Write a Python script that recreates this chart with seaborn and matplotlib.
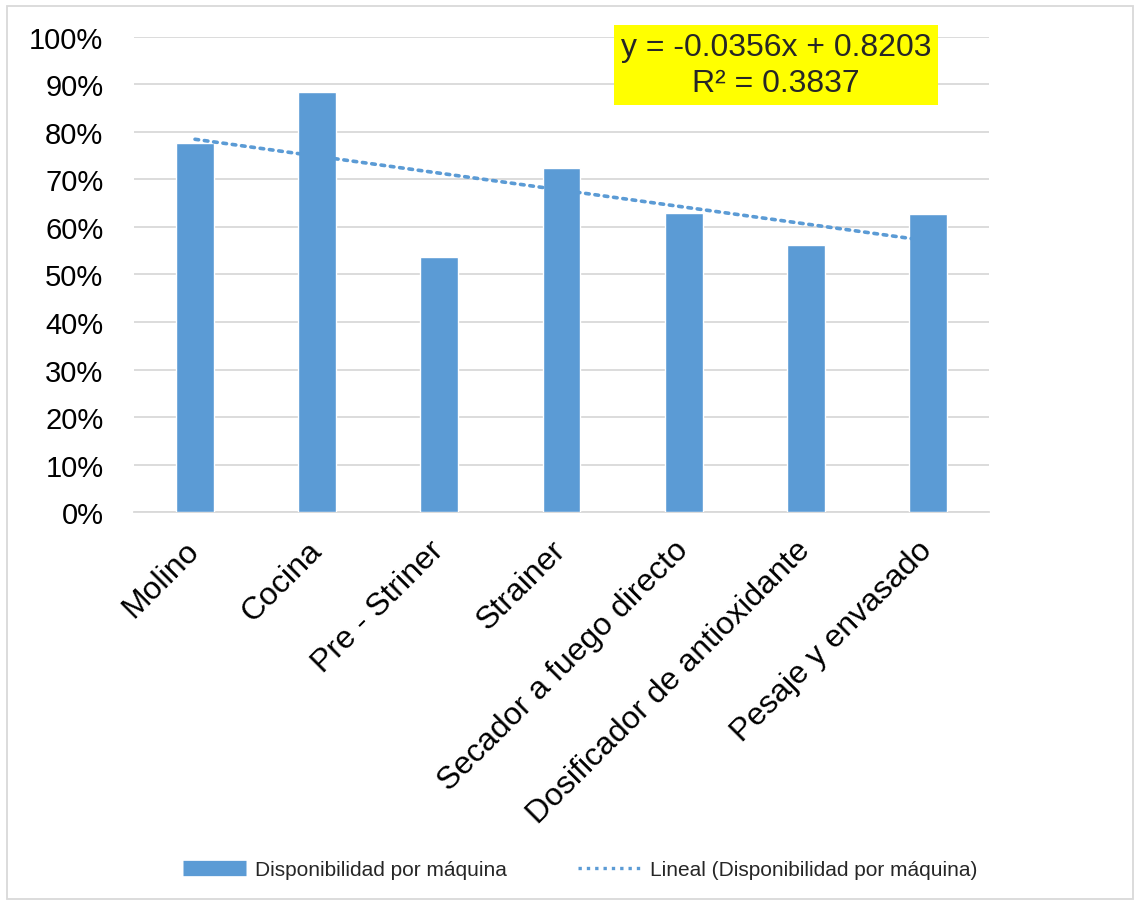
import numpy as np
import pandas as pd
import matplotlib
matplotlib.use("Agg")
import matplotlib.pyplot as plt
from matplotlib.lines import Line2D
from matplotlib.patches import Rectangle
from matplotlib.ticker import PercentFormatter
import seaborn as sns

categories = ["Molino", "Cocina", "Pre - Striner", "Strainer",
              "Secador a fuego directo", "Dosificador de antioxidante",
              "Pesaje y envasado"]
availability = [0.776, 0.8851, 0.5378, 0.7251, 0.6303, 0.5614, 0.6283]
y_ticks = [0.0, 0.1, 0.2, 0.3, 0.4, 0.5, 0.6, 0.7, 0.8, 0.9, 1.0]

bar_label = "Disponibilidad por máquina"
trend_label = "Lineal (Disponibilidad por máquina)"

sns.set_theme(style="white")
plt.rcParams["font.family"] = ["Liberation Sans", "DejaVu Sans"]

BLUE = "#5B9BD5"
GRID = "#D9D9D9"

df = pd.DataFrame({"maquina": categories, "disp": availability})

fig = plt.figure(figsize=(11.4, 9.04), dpi=100)
ax = fig.add_axes([0.1175, 0.4325, 0.75, 0.5255])

sns.barplot(data=df, x="maquina", y="disp", color=BLUE, width=0.31,
            saturation=1, ax=ax, zorder=3)

# Linear trend over category index (1..n), as in a spreadsheet trendline
xi = np.arange(1, len(availability) + 1)
vals = np.array(availability)
slope, intercept = np.polyfit(xi, vals, 1)
fit = slope * xi + intercept
r2 = 1 - np.sum((vals - fit) ** 2) / np.sum((vals - vals.mean()) ** 2)
ax.plot(xi - 1, fit, linestyle=(0, (1, 1.6)), color=BLUE, lw=2.6,
        zorder=4, dash_capstyle="round")

ax.set_ylim(0, 1.0)
ax.set_xlim(-0.5, len(categories) - 0.5)
ax.set_yticks(y_ticks)
ax.yaxis.set_major_formatter(PercentFormatter(1.0, decimals=0))
ax.yaxis.grid(True, color=GRID, lw=1.3, zorder=0)
ax.set_axisbelow(True)
for s in ["top", "right", "left"]:
    ax.spines[s].set_visible(False)
ax.spines["bottom"].set_color(GRID)
ax.spines["bottom"].set_linewidth(1.3)
ax.set_xlabel("")
ax.set_ylabel("")
ax.tick_params(axis="y", labelsize=21, length=0, pad=22, colors="black")
ax.tick_params(axis="x", labelsize=23, length=0, pad=24, colors="black")
plt.setp(ax.get_xticklabels(), rotation=45, ha="right", va="center",
         rotation_mode="anchor")

ax.text(0.751, 0.941,
        f"y = {slope:.4f}x + {intercept:.4f}\nR² = {r2:.4f}",
        transform=ax.transAxes, ha="center", va="center", fontsize=23,
        linespacing=1.3, zorder=6,
        bbox=dict(boxstyle="square,pad=0.22", fc="#FFFF00", ec="none"))

handles = [Line2D([0], [0], color=BLUE, lw=11, solid_capstyle="butt"),
           Line2D([0], [0], color=BLUE, lw=2.4, linestyle=(0, (1, 1.5)))]
fig.legend(handles, [bar_label, trend_label], loc="center",
           bbox_to_anchor=(0.509, 0.037), ncol=2, frameon=False,
           fontsize=15, handlelength=3.0, handletextpad=0.45,
           columnspacing=3.4)

fig.patches.append(Rectangle((0.006, 0.004), 0.988, 0.988,
                             transform=fig.transFigure, fill=False,
                             ec=GRID, lw=1.3))

fig.savefig("out.png", dpi=100)
